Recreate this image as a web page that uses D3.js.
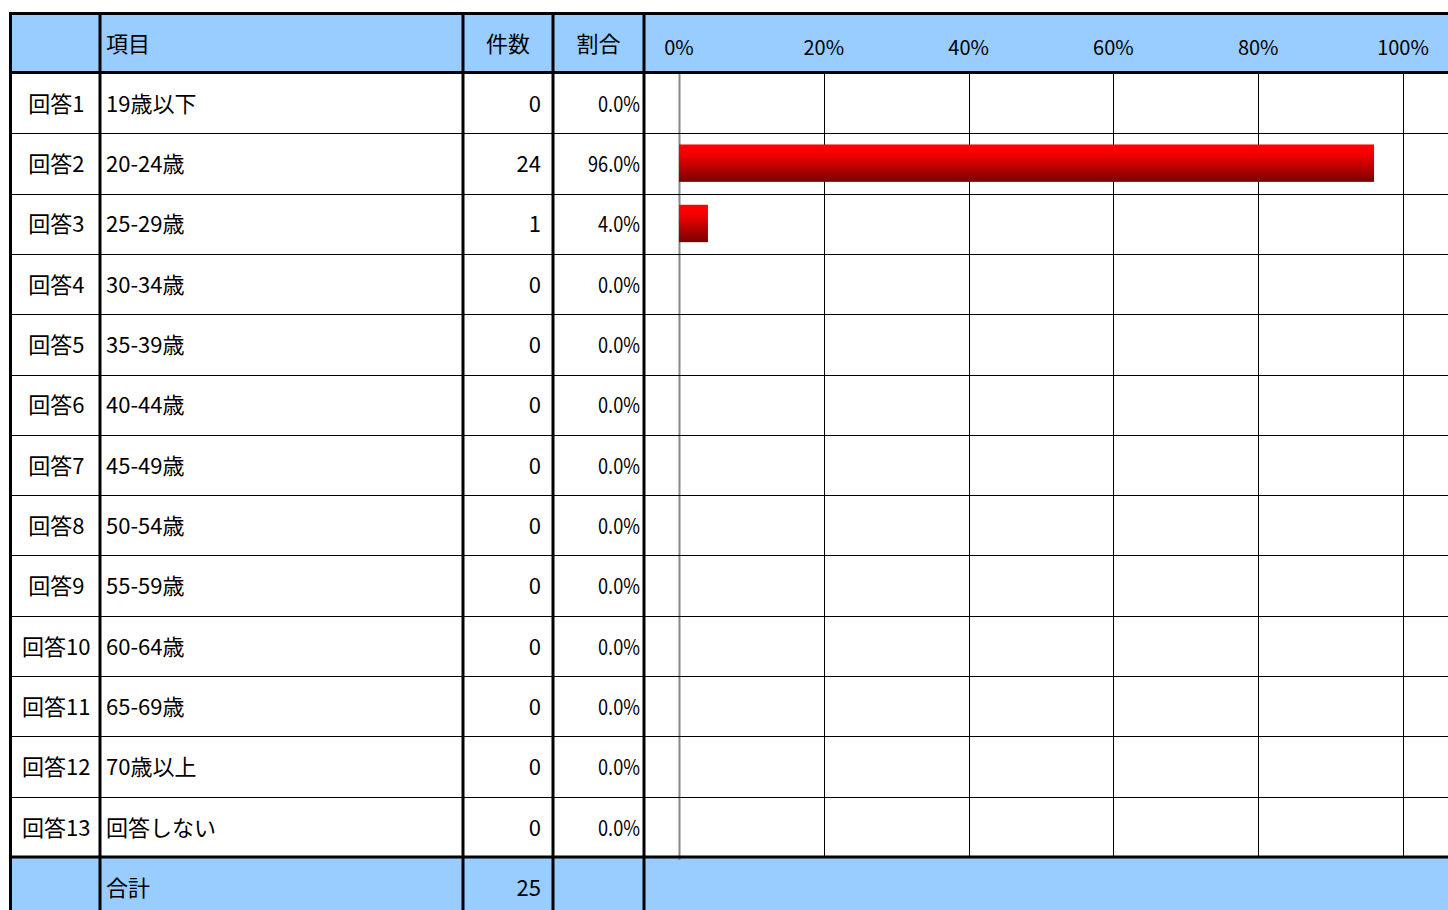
<!DOCTYPE html>
<html>
<head>
<meta charset="utf-8">
<script src="https://cdn.jsdelivr.net/npm/d3@7"></script>
<style>
  html, body { margin: 0; padding: 0; background: #fff; }
  svg { display: block; }
  text { font-family: "Noto Sans CJK JP", "Noto Sans", sans-serif; fill: #000; }
</style>
</head>
<body>
<div id="chart"></div>
<script>
// Datos de la tabla
const answers = ['回答1', '回答2', '回答3', '回答4', '回答5', '回答6', '回答7', '回答8', '回答9', '回答10', '回答11', '回答12', '回答13'];
const items   = ['19歳以下', '20-24歳', '25-29歳', '30-34歳', '35-39歳', '40-44歳', '45-49歳', '50-54歳', '55-59歳', '60-64歳', '65-69歳', '70歳以上', '回答しない'];
const counts  = [0, 24, 1, 0, 0, 0, 0, 0, 0, 0, 0, 0, 0];
const shares  = [0.0, 96.0, 4.0, 0.0, 0.0, 0.0, 0.0, 0.0, 0.0, 0.0, 0.0, 0.0, 0.0];
const ticks   = [0, 20, 40, 60, 80, 100];
const headers = ['項目', '件数', '割合'];
const totalLabel = '合計';
const totalCount = 25;

const width = 1448;
const height = 910;

// columnas
const col = { a: 10.5, b: 100, c: 463, d: 553, e: 644, end: width };
const topY = 13.5, headBottom = 72.5, bodyBottom = 857;

const svg = d3.select('#chart').append('svg')
  .attr('width', width)
  .attr('height', height)
  .attr('viewBox', [0, 0, width, height]);

const defs = svg.append('defs');
const grad = defs.append('linearGradient').attr('id', 'barGrad')
  .attr('x1', 0).attr('y1', 0).attr('x2', 0).attr('y2', 1);
grad.append('stop').attr('offset', '0%').attr('stop-color', '#ff0000');
grad.append('stop').attr('offset', '25%').attr('stop-color', '#f50000');
grad.append('stop').attr('offset', '100%').attr('stop-color', '#7a0000');

// scales
const y = d3.scaleBand().domain(d3.range(answers.length)).range([headBottom + 0.5, bodyBottom]);
const x = d3.scaleLinear().domain([0, 100]).range([679, 1403]);

// fondos
svg.append('rect').attr('x', col.a).attr('y', topY).attr('width', width - col.a).attr('height', headBottom - topY).attr('fill', '#99ccff');
svg.append('rect').attr('x', col.a).attr('y', bodyBottom).attr('width', width - col.a).attr('height', height - bodyBottom).attr('fill', '#99ccff');

// grilla del gráfico
const grid = svg.append('g').attr('id', 'grid');
grid.selectAll('line')
  .data(ticks)
  .join('line')
  .attr('x1', d => Math.round(x(d)) + 0.5)
  .attr('x2', d => Math.round(x(d)) + 0.5)
  .attr('y1', headBottom)
  .attr('y2', d => d === 0 ? bodyBottom + 3 : bodyBottom)
  .attr('stroke', d => d === 0 ? '#888' : '#000')
  .attr('stroke-width', d => d === 0 ? 2 : 1);

// líneas de filas
svg.append('g').attr('id', 'row-lines')
  .selectAll('line')
  .data(d3.range(1, answers.length))
  .join('line')
  .attr('x1', col.a)
  .attr('x2', width)
  .attr('y1', d => Math.round(y(d)) + 0.5)
  .attr('y2', d => Math.round(y(d)) + 0.5)
  .attr('stroke', '#000')
  .attr('stroke-width', 1);

// barras
svg.append('g').attr('id', 'bars')
  .selectAll('rect')
  .data(shares.map((v, i) => ({ v, i })).filter(d => d.v > 0))
  .join('rect')
  .attr('x', x(0))
  .attr('y', d => y(d.i) + y.bandwidth() * 0.185)
  .attr('width', d => x(d.v) - x(0))
  .attr('height', y.bandwidth() * 0.62)
  .attr('fill', 'url(#barGrad)');

// bordes gruesos
const borders = svg.append('g').attr('id', 'borders').attr('stroke', '#000').attr('stroke-width', 3);
[topY, headBottom, bodyBottom].forEach(v => {
  borders.append('line').attr('x1', col.a - 1.5).attr('x2', width).attr('y1', v).attr('y2', v);
});
[col.a, col.b, col.c, col.d, col.e].forEach(v => {
  borders.append('line').attr('x1', v).attr('x2', v).attr('y1', topY - 1.5).attr('y2', height);
});

// textos del encabezado
const head = svg.append('g').attr('font-size', 22);
const headY = (topY + headBottom) / 2 + 1;
head.append('text').attr('x', col.b + 6).attr('y', headY).attr('dy', '0.35em').text(headers[0]);
head.append('text').attr('x', (col.c + col.d) / 2).attr('y', headY).attr('dy', '0.35em').attr('text-anchor', 'middle').text(headers[1]);
head.append('text').attr('x', (col.d + col.e) / 2).attr('y', headY).attr('dy', '0.35em').attr('text-anchor', 'middle').text(headers[2]);

svg.append('g').attr('font-size', 20)
  .selectAll('text')
  .data(ticks)
  .join('text')
  .attr('x', d => x(d))
  .attr('y', headY + 4)
  .attr('dy', '0.35em')
  .attr('text-anchor', 'middle')
  .text(d => d + '%');

// filas
const rows = svg.append('g').attr('font-size', 22)
  .selectAll('g')
  .data(answers.map((a, i) => ({ a, i })))
  .join('g')
  .attr('transform', d => `translate(0, ${y(d.i) + y.bandwidth() / 2 + 1})`);

rows.append('text').attr('x', (col.a + col.b) / 2 + 1).attr('dy', '0.35em').attr('text-anchor', 'middle').text(d => d.a);
rows.append('text').attr('x', col.b + 6).attr('dy', '0.35em').text(d => items[d.i]);
rows.append('text').attr('x', col.d - 12).attr('dy', '0.35em').attr('text-anchor', 'end').text(d => counts[d.i]);
rows.append('text').attr('x', col.e - 4).attr('dy', '0.35em').attr('text-anchor', 'end')
  .attr('textLength', d => shares[d.i].toFixed(1).length * 10 + 12).attr('lengthAdjust', 'spacingAndGlyphs')
  .text(d => shares[d.i].toFixed(1) + '%');

// total
const totalY = bodyBottom + 31;
svg.append('text').attr('font-size', 22).attr('x', col.b + 6).attr('y', totalY).attr('dy', '0.35em').text(totalLabel);
svg.append('text').attr('font-size', 22).attr('x', col.d - 12).attr('y', totalY).attr('dy', '0.35em').attr('text-anchor', 'end').text(totalCount);
</script>
</body>
</html>
